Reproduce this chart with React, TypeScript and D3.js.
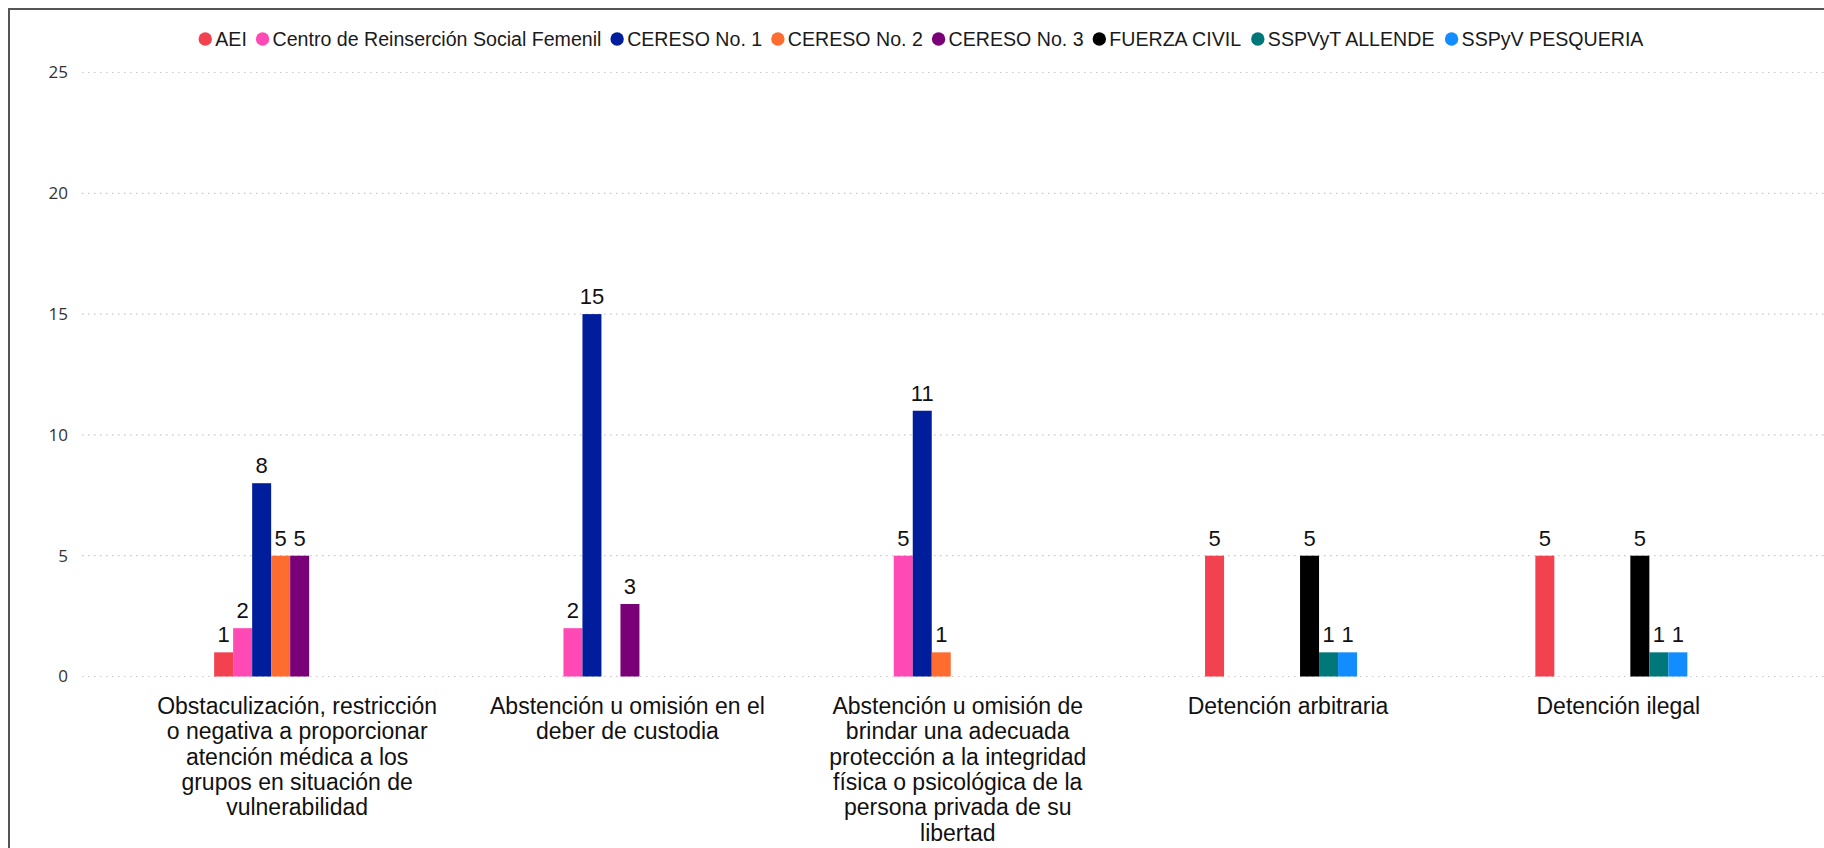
import React, { useMemo } from "react";
import * as d3 from "d3";

const categories = [
  "Obstaculización, restricción o negativa a proporcionar atención médica a los grupos en situación de vulnerabilidad",
  "Abstención u omisión en el deber de custodia",
  "Abstención u omisión de brindar una adecuada protección a la integridad física o psicológica de la persona privada de su libertad",
  "Detención arbitraria",
  "Detención ilegal",
];

const categoryLines = [
  ["Obstaculización, restricción", "o negativa a proporcionar", "atención médica a los", "grupos en situación de", "vulnerabilidad"],
  ["Abstención u omisión en el", "deber de custodia"],
  ["Abstención u omisión de", "brindar una adecuada", "protección a la integridad", "física o psicológica de la", "persona privada de su", "libertad"],
  ["Detención arbitraria"],
  ["Detención ilegal"],
];

const seriesNames = [
  "AEI",
  "Centro de Reinserción Social Femenil",
  "CERESO No. 1",
  "CERESO No. 2",
  "CERESO No. 3",
  "FUERZA CIVIL",
  "SSPVyT ALLENDE",
  "SSPyV PESQUERIA",
];

const seriesColors = ["#F2424F", "#FF49B4", "#001D9C", "#FF6C30", "#7A0078", "#000000", "#00787A", "#118DFF"];

const aei = [1, null, null, 5, 5];
const centroFemenil = [2, 2, 5, null, null];
const cereso1 = [8, 15, 11, null, null];
const cereso2 = [5, null, 1, null, null];
const cereso3 = [5, 3, null, null, null];
const fuerzaCivil = [null, null, null, 5, 5];
const sspvytAllende = [null, null, null, 1, 1];
const sspyvPesqueria = [null, null, null, 1, 1];

const seriesValues = [aei, centroFemenil, cereso1, cereso2, cereso3, fuerzaCivil, sspvytAllende, sspyvPesqueria];

const yTicks = [0, 5, 10, 15, 20, 25];

const W = 1824;
const H = 848;
const FONT = "'Liberation Sans', Arial, sans-serif";
const TICK_FONT = "'Open Sans', 'Noto Sans', sans-serif";

function measure(text: string, font: string): number {
  if (typeof document === "undefined") return text.length * 10;
  const c = document.createElement("canvas");
  const ctx = c.getContext("2d");
  if (!ctx) return text.length * 10;
  ctx.font = font;
  return ctx.measureText(text).width;
}

export default function App() {
  const y = d3.scaleLinear().domain([0, 25]).range([676.5, 72.5]);
  const x0 = d3.scaleBand<string>().domain(categories).range([125, 1776.5]).padding(0);
  const groupW = 152;
  const x1 = d3.scaleBand<string>().domain(seriesNames).range([0, groupW]).padding(0);

  const legendFontSize = 19.6;
  const legend = useMemo(() => {
    const r = 6.7;
    const gapText = 3.3;
    const gapItem = 9;
    const widths = seriesNames.map((s) => measure(s, `${legendFontSize}px ${FONT}`));
    const total =
      widths.reduce((a, b) => a + b, 0) + seriesNames.length * (2 * r + gapText) + (seriesNames.length - 1) * gapItem;
    let cx = 921 - total / 2;
    return seriesNames.map((s, i) => {
      const item = { name: s, color: seriesColors[i], cx: cx + r, tx: cx + 2 * r + gapText, r };
      cx += 2 * r + gapText + widths[i] + gapItem;
      return item;
    });
  }, []);

  const gridX0 = 82;

  return (
    <svg
      width={W}
      height={H}
      style={{ position: "absolute", left: 0, top: 0, display: "block", background: "#fff" }}
    >
      <rect x={0} y={0} width={W} height={H} fill="#fff" />
      {/* frame */}
      <line x1={9} y1={8} x2={9} y2={H} stroke="#555" strokeWidth={2} />
      <line x1={8} y1={9} x2={W} y2={9} stroke="#555" strokeWidth={2} />

      {/* legend */}
      {legend.map((l) => (
        <g key={l.name}>
          <circle cx={l.cx} cy={39} r={l.r} fill={l.color} />
          <text x={l.tx} y={45.5} fontFamily={FONT} fontSize={legendFontSize} fill="#1a1a1a">
            {l.name}
          </text>
        </g>
      ))}

      {/* grid and y ticks */}
      {yTicks.map((t) => (
        <g key={t}>
          <line
            x1={gridX0}
            x2={W}
            y1={y(t)}
            y2={y(t)}
            stroke="#C8C8C8"
            strokeWidth={1.2}
            strokeDasharray="1.5,4.5"
          />
          <text
            x={68}
            y={y(t)}
            dy="0.35em"
            textAnchor="end"
            fontFamily={TICK_FONT}
            fontSize={17}
            fill="#333"
          >
            {t}
          </text>
        </g>
      ))}

      {/* bars */}
      {categories.map((c, ci) => {
        const gx = (x0(c) as number) + (x0.bandwidth() - groupW) / 2;
        return (
          <g key={c}>
            {seriesNames.map((s, si) => {
              const v = seriesValues[si][ci];
              if (v === null || v === undefined) return null;
              const bx = gx + (x1(s) as number);
              return (
                <g key={s}>
                  <rect
                    x={bx}
                    y={y(v)}
                    width={x1.bandwidth()}
                    height={y(0) - y(v)}
                    fill={seriesColors[si]}
                  />
                  <text
                    x={bx + x1.bandwidth() / 2}
                    y={y(v) - 10}
                    textAnchor="middle"
                    fontFamily={FONT}
                    fontSize={22}
                    fill="#111"
                  >
                    {v}
                  </text>
                </g>
              );
            })}
          </g>
        );
      })}

      {/* category labels */}
      {categories.map((c, ci) => {
        const cx = (x0(c) as number) + x0.bandwidth() / 2 + 7;
        return (
          <text key={c} textAnchor="middle" fontFamily={FONT} fontSize={23} fill="#111">
            {categoryLines[ci].map((ln, li) => (
              <tspan key={li} x={cx} y={714 + li * 25.3}>
                {ln}
              </tspan>
            ))}
          </text>
        );
      })}
    </svg>
  );
}
